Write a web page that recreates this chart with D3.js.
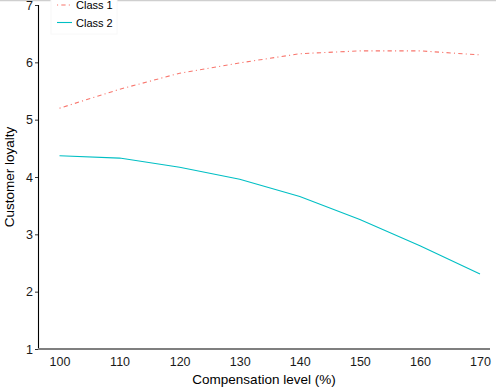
<!DOCTYPE html>
<html>
<head>
<meta charset="utf-8">
<script src="https://cdn.jsdelivr.net/npm/d3@7"></script>
<style>
  body { margin: 0; background: #fff; }
  text { font-family: "Liberation Sans", Arial, sans-serif; }
</style>
</head>
<body>
<div class="root"></div>
<script>
var width = 496,
    height = 388;

// data
var levels = [100, 110, 120, 130, 140, 150, 160, 170];
var class1 = [5.20, 5.53, 5.81, 5.99, 6.15, 6.20, 6.20, 6.13];
var class2 = [4.37, 4.33, 4.17, 3.96, 3.66, 3.26, 2.80, 2.31];
var seriesNames = ['Class 1', 'Class 2'];
var seriesColors = ['#F8766D', '#00BFC4'];
var yTicks = [1, 2, 3, 4, 5, 6, 7];

var svg = d3.select('.root')
            .append('svg')
            .attr('width', width)
            .attr('height', height);

svg.append('rect')
   .attr('width', width)
   .attr('height', height)
   .attr('fill', '#fff');

// thin grey strip on the top edge
svg.append('line')
   .attr('x1', 0).attr('x2', width)
   .attr('y1', 0.5).attr('y2', 0.5)
   .attr('stroke', '#cfcfcf')
   .attr('stroke-width', 1.5);

var xScale = d3.scaleLinear()
               .domain([100, 170])
               .range([59.5, 480]);

var yScale = d3.scaleLinear()
               .domain([1, 7])
               .range([349, 5]);

// y axis
var yAxis = svg.append('g')
               .attr('transform', 'translate(38,0)')
               .call(d3.axisLeft(yScale).tickValues(yTicks).tickSize(3).tickPadding(2).tickFormat(d3.format('d')));
yAxis.select('.domain').attr('stroke', '#000').attr('stroke-width', 1.1);
yAxis.selectAll('.tick line').attr('stroke', '#333');
yAxis.selectAll('.tick text').attr('font-size', 12.5).attr('fill', '#1a1a1a')
     .attr('font-family', '"Liberation Sans", Arial, sans-serif');

// x axis (grey line, no visible ticks)
var xAxis = svg.append('g')
               .attr('transform', 'translate(0,349)')
               .call(d3.axisBottom(xScale).tickValues(levels).tickSize(0).tickPadding(8).tickSizeOuter(0));
xAxis.select('.domain').attr('d', 'M38,0H490').attr('stroke', '#7f7f7f').attr('stroke-width', 2);
xAxis.selectAll('.tick text').attr('font-size', 12.5).attr('fill', '#1a1a1a')
     .attr('font-family', '"Liberation Sans", Arial, sans-serif');

svg.append('text')
   .attr('x', 264).attr('y', 384)
   .attr('text-anchor', 'middle')
   .attr('font-size', 13.5)
   .attr('fill', '#000')
   .text('Compensation level (%)');

svg.append('text')
   .attr('transform', 'translate(14,177) rotate(-90)')
   .attr('text-anchor', 'middle')
   .attr('font-size', 13.5)
   .attr('fill', '#000')
   .text('Customer loyalty');

var line = d3.line()
             .x((d, i) => xScale(levels[i]))
             .y(d => yScale(d));

var dashes = ['1.1,3.2,4.3,3.2', null];

[class1, class2].forEach(function (each, index) {
  svg.append('path')
     .datum(each)
     .attr('d', line)
     .attr('fill', 'none')
     .attr('stroke', seriesColors[index])
     .attr('stroke-width', 1.1)
     .attr('stroke-dasharray', dashes[index]);
});

// legend
var legend = svg.append('g');
legend.append('rect')
      .attr('x', 51).attr('y', -1)
      .attr('width', 66).attr('height', 35)
      .attr('fill', '#fff')
      .attr('stroke', '#f8f8f8');

seriesNames.forEach(function (name, i) {
  var y = 5 + i * 17.5;
  legend.append('line')
        .attr('x1', 57).attr('x2', 72)
        .attr('y1', y).attr('y2', y)
        .attr('stroke', seriesColors[i])
        .attr('stroke-width', 1.1)
        .attr('stroke-dasharray', dashes[i]);
  legend.append('text')
        .attr('x', 76).attr('y', y + 4)
        .attr('font-size', 11)
        .attr('fill', '#000')
        .text(name);
});
</script>
</body>
</html>
